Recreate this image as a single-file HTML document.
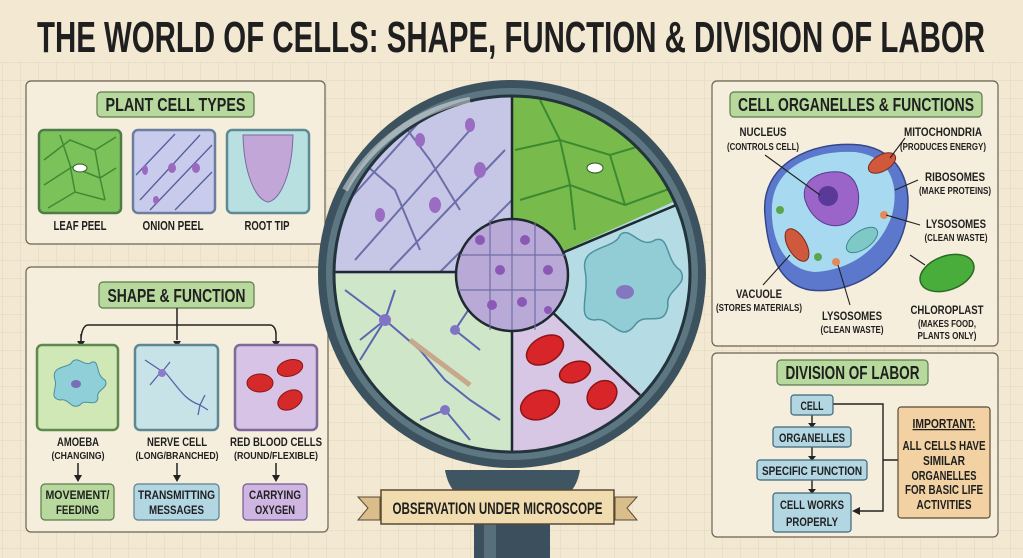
<!DOCTYPE html>
<html><head><meta charset="utf-8"><style>
html,body{margin:0;padding:0;background:#f3e8d2;}
svg{display:block}
text{font-family:"Liberation Sans Narrow","Liberation Sans",sans-serif;font-weight:bold;fill:#1f1f1f;text-anchor:middle}
</style></head><body>
<svg width="1023" height="558" viewBox="0 0 1023 558" xmlns="http://www.w3.org/2000/svg">
<defs>
<pattern id="grid" width="18" height="18" patternUnits="userSpaceOnUse" x="2" y="8">
<path d="M18 0H0V18" fill="none" stroke="#ddd2bb" stroke-width="0.8"/>
</pattern>
<clipPath id="lens"><circle cx="512" cy="274" r="178"/></clipPath>
</defs>
<rect width="1023" height="558" fill="#f3e8d2"/>
<rect x="0" y="62" width="1023" height="496" fill="url(#grid)"/>

<text x="511" y="52" font-size="44" textLength="948" lengthAdjust="spacingAndGlyphs">THE WORLD OF CELLS: SHAPE, FUNCTION &amp; DIVISION OF LABOR</text>

<!-- Plant cell types panel -->
<rect x="26" y="81" width="299" height="163" rx="5" fill="#f6eedc" stroke="#6b6252" stroke-width="1.2"/>
<rect x="97" y="92" width="157" height="25" rx="4" fill="#b7d99d" stroke="#5c7a4c" stroke-width="1.2"/>
<text x="175.5" y="111" font-size="18" textLength="140" lengthAdjust="spacingAndGlyphs">PLANT CELL TYPES</text>
<rect x="39" y="130" width="82" height="83" rx="5" fill="#7cc25a" stroke="#4f7a4a" stroke-width="2.5"/>
<g stroke="#3f8a35" stroke-width="1.5" fill="none"><path d="M44 160 L70 140 L95 150 L116 137 M44 185 L72 167 L100 178 L116 168 M48 208 L75 192 L105 200 M60 135 L70 165 L75 192 M95 150 L100 178 L105 200"/></g>
<ellipse cx="80" cy="168" rx="7" ry="4" fill="#fff" stroke="#2c5a25"/>
<rect x="133" y="130" width="82" height="83" rx="5" fill="#c8cbec" stroke="#6b7ea0" stroke-width="2.5"/>
<g stroke="#55609a" stroke-width="1.3" fill="none"><path d="M136 175 L175 134 M140 200 L200 135 M150 210 L212 145 M175 210 L212 172"/></g>
<g fill="#9b6ac0"><ellipse cx="145" cy="170" rx="3" ry="5"/><ellipse cx="172" cy="168" rx="4" ry="5"/><ellipse cx="196" cy="168" rx="4" ry="5"/><ellipse cx="156" cy="200" rx="3" ry="4"/></g>
<rect x="227" y="130" width="82" height="83" rx="5" fill="#b9e0e0" stroke="#5e8a96" stroke-width="2.5"/>
<path d="M243 135 L293 135 C292 175 280 200 268 202 C256 200 244 175 243 135Z" fill="#c3a6d8" stroke="#7b6aa0"/>
<text x="80" y="230" font-size="12.5" textLength="53" lengthAdjust="spacingAndGlyphs">LEAF PEEL</text>
<text x="173" y="230" font-size="12.5" textLength="61" lengthAdjust="spacingAndGlyphs">ONION PEEL</text>
<text x="267" y="230" font-size="12.5" textLength="45" lengthAdjust="spacingAndGlyphs">ROOT TIP</text>

<!-- Shape & function panel -->
<rect x="26" y="267" width="302" height="265" rx="5" fill="#f6eedc" stroke="#6b6252" stroke-width="1.2"/>
<rect x="99" y="282" width="155" height="26" rx="4" fill="#b7d99d" stroke="#5c7a4c" stroke-width="1.2"/>
<text x="176.5" y="302" font-size="18" textLength="138" lengthAdjust="spacingAndGlyphs">SHAPE &amp; FUNCTION</text>
<g stroke="#222" stroke-width="1.5" fill="none">
<path d="M177 308 V340 M81 334 V343 M276 334 V343 M81 340 C81 334 83 325 88 325 H270 C274 325 276 330 276 334"/>
<path d="M78 463 V476 M177 463 V476 M276 463 V476"/>
</g>
<g fill="#222"><path d="M77 341 L85 341 L81 347Z M173 341 L181 341 L177 347Z M272 341 L280 341 L276 347Z M74 475 L82 475 L78 482Z M173 475 L181 475 L177 482Z M272 475 L280 475 L276 482Z"/></g>
<rect x="37" y="345" width="81" height="85" rx="5" fill="#cfe8b6" stroke="#5f8a4e" stroke-width="2.5"/>
<path d="M55 380 C50 365 70 368 72 362 C78 355 85 368 92 362 C100 360 95 375 105 380 C110 388 95 390 98 398 C96 408 85 398 80 405 C70 410 70 398 60 400 C48 398 58 388 55 380Z" fill="#8fd0d8" stroke="#4d8ea0"/>
<ellipse cx="76" cy="384" rx="5" ry="4" fill="#7a6cb8"/>
<rect x="135" y="345" width="83" height="85" rx="5" fill="#c7e3e8" stroke="#5e8796" stroke-width="2.5"/>
<g stroke="#5563a8" stroke-width="1.3" fill="none"><path d="M145 360 L160 370 M150 385 L160 373 M170 362 L162 372 M165 372 C180 390 185 400 200 405 L205 395 M200 405 L198 415 M200 405 L208 410"/></g>
<circle cx="162" cy="373" r="4" fill="#8a7cc8"/>
<rect x="235" y="345" width="82" height="85" rx="5" fill="#d7c3e6" stroke="#7d6a98" stroke-width="2.5"/>
<g fill="#d42a2a" stroke="#8a1515"><ellipse cx="260" cy="383" rx="13" ry="9"/><ellipse cx="290" cy="368" rx="13" ry="8" transform="rotate(-15 290 368)"/><ellipse cx="290" cy="400" rx="13" ry="9" transform="rotate(-30 290 400)"/></g>
<text x="78" y="446" font-size="12" textLength="42" lengthAdjust="spacingAndGlyphs">AMOEBA</text>
<text x="78" y="459" font-size="10.5" textLength="53" lengthAdjust="spacingAndGlyphs">(CHANGING)</text>
<text x="177" y="446" font-size="12" textLength="60" lengthAdjust="spacingAndGlyphs">NERVE CELL</text>
<text x="177" y="459" font-size="10.5" textLength="83" lengthAdjust="spacingAndGlyphs">(LONG/BRANCHED)</text>
<text x="276" y="446" font-size="12" textLength="92" lengthAdjust="spacingAndGlyphs">RED BLOOD CELLS</text>
<text x="276" y="459" font-size="10.5" textLength="84" lengthAdjust="spacingAndGlyphs">(ROUND/FLEXIBLE)</text>
<rect x="41" y="484" width="73" height="36" rx="4" fill="#b7d99d" stroke="#5c7a4c" stroke-width="1.2"/>
<text x="77.5" y="499" font-size="12" textLength="64" lengthAdjust="spacingAndGlyphs">MOVEMENT/</text><text x="77.5" y="514" font-size="12" textLength="43" lengthAdjust="spacingAndGlyphs">FEEDING</text>
<rect x="134" y="484" width="85" height="36" rx="4" fill="#b3d6e3" stroke="#5a7f90" stroke-width="1.2"/>
<text x="176.5" y="499" font-size="12" textLength="77" lengthAdjust="spacingAndGlyphs">TRANSMITTING</text><text x="176.5" y="514" font-size="12" textLength="55" lengthAdjust="spacingAndGlyphs">MESSAGES</text>
<rect x="243" y="484" width="64" height="36" rx="4" fill="#cfb6e2" stroke="#70598e" stroke-width="1.2"/>
<text x="275" y="499" font-size="12" textLength="52" lengthAdjust="spacingAndGlyphs">CARRYING</text><text x="275" y="514" font-size="12" textLength="40" lengthAdjust="spacingAndGlyphs">OXYGEN</text>

<!-- Magnifier -->
<path d="M445 470 Q450 500 480 505 L545 505 Q575 500 580 470Z" fill="#3f5561"/>
<rect x="474" y="500" width="76" height="58" fill="#3b505c"/>
<rect x="484" y="505" width="12" height="53" fill="#566f7b"/>
<circle cx="512" cy="274" r="194" fill="#3c525e"/>
<circle cx="512" cy="274" r="186" fill="#5d7782"/>
<g clip-path="url(#lens)">
<rect x="330" y="90" width="182" height="184" fill="#c6c7e6"/>
<rect x="512" y="90" width="190" height="184" fill="#78bb4c"/>
<path d="M512 274 L700 190 L700 470 Z" fill="#b5dce4"/>
<path d="M512 274 L650 400 L650 470 L512 470Z" fill="#d8c6e5"/>
<rect x="330" y="274" width="182" height="200" fill="#cfe6c8"/>
<g stroke="#6c6ea8" stroke-width="2" fill="none"><path d="M340 210 L430 110 M355 260 L470 130 M390 270 L505 150 M440 272 L512 200 M360 160 L395 190 L420 250 M400 120 L430 160 L460 210"/></g>
<g fill="#9a6cc2"><ellipse cx="380" cy="215" rx="5" ry="7"/><ellipse cx="435" cy="205" rx="6" ry="8"/><ellipse cx="480" cy="170" rx="6" ry="8"/><ellipse cx="470" cy="125" rx="5" ry="7"/><ellipse cx="420" cy="140" rx="5" ry="7"/></g>
<g stroke="#3c8a30" stroke-width="2" fill="none"><path d="M515 150 L560 140 L610 155 L660 140 L700 150 M520 200 L570 185 L625 205 L680 185 M560 140 L570 185 L575 230 M610 155 L625 205 M660 140 L680 185 M540 100 L560 140"/></g>
<ellipse cx="595" cy="168" rx="8" ry="5" fill="#fff" stroke="#2c5a25"/>
<path d="M585 270 C580 245 615 250 620 235 C630 225 640 250 655 240 C670 235 665 260 680 270 C690 285 665 290 668 305 C665 330 645 310 635 325 C620 345 610 315 595 320 C575 320 590 295 585 270Z" fill="#92cdd6" stroke="#4e92a0" stroke-width="1.5"/>
<ellipse cx="625" cy="292" rx="9" ry="7" fill="#8576c0"/>
<g fill="#d8252a" stroke="#8c1515" stroke-width="1.5"><ellipse cx="545" cy="350" rx="20" ry="13" transform="rotate(-30 545 350)"/><ellipse cx="575" cy="372" rx="16" ry="10" transform="rotate(-20 575 372)"/><ellipse cx="540" cy="405" rx="20" ry="14" transform="rotate(-20 540 405)"/><ellipse cx="602" cy="395" rx="16" ry="13" transform="rotate(-40 602 395)"/></g>
<g stroke="#5b66b0" stroke-width="2" fill="none"><path d="M345 290 L385 320 L420 350 L445 380 L470 400 L500 420 M385 320 L360 340 M385 320 L395 290 M455 330 L475 300 M455 330 L480 350 M445 410 L420 420 M445 410 L470 440 M360 360 L385 320"/></g>
<path d="M410 340 L470 385" stroke="#c8a88a" stroke-width="5"/>
<g fill="#8174c6"><circle cx="385" cy="320" r="6"/><circle cx="455" cy="330" r="5"/><circle cx="445" cy="410" r="5"/></g>
<g stroke="#1e2a30" stroke-width="2.5" fill="none"><path d="M512 90 V470 M330 272 H512 M512 274 L700 195 M512 274 L640 395"/></g>
</g>
<circle cx="512" cy="274" r="178" fill="none" stroke="#24343c" stroke-width="3"/>
<circle cx="512" cy="275" r="56" fill="#b9a9d6" stroke="#1e2a30" stroke-width="2.5"/>
<g stroke="#6e6ea8" stroke-width="1.2" fill="none"><path d="M460 255 H565 M458 290 H566 M490 220 V330 M512 220 V330 M535 222 V330"/></g>
<g fill="#8c58b6"><circle cx="480" cy="240" r="5"/><circle cx="500" cy="270" r="5"/><circle cx="525" cy="240" r="5"/><circle cx="548" cy="270" r="5"/><circle cx="492" cy="305" r="5"/><circle cx="522" cy="302" r="5"/><circle cx="548" cy="310" r="4"/></g>
<path d="M345 190 A180 180 0 0 1 470 100" stroke="#fff" stroke-opacity="0.45" stroke-width="6" fill="none"/>

<!-- banner -->
<path d="M358 497 L380 497 L380 520 L358 520 L368 508Z" fill="#d9bd8a" stroke="#5a4a35"/>
<path d="M637 497 L615 497 L615 520 L637 520 L627 508Z" fill="#d9bd8a" stroke="#5a4a35"/>
<rect x="381" y="490" width="233" height="34" fill="#f1dcb0" stroke="#5a4a35" stroke-width="1.5"/>
<text x="497.5" y="514" font-size="17" textLength="210" lengthAdjust="spacingAndGlyphs">OBSERVATION UNDER MICROSCOPE</text>

<!-- Organelles panel -->
<rect x="712" y="81" width="286" height="265" rx="5" fill="#f6eedc" stroke="#6b6252" stroke-width="1.2"/>
<rect x="730" y="92" width="252" height="25" rx="4" fill="#b7d99d" stroke="#5c7a4c" stroke-width="1.2"/>
<text x="856" y="111" font-size="18" textLength="236" lengthAdjust="spacingAndGlyphs">CELL ORGANELLES &amp; FUNCTIONS</text>
<path d="M765 215 C760 165 810 140 860 145 C900 150 915 185 905 225 C895 270 850 295 810 290 C780 285 768 255 765 215Z" fill="#5b78cc" stroke="#34468a" stroke-width="1.5"/>
<path d="M772 205 C775 165 815 150 855 152 C890 156 900 185 892 215 C880 250 850 270 815 272 C785 270 770 240 772 205Z" fill="#a7daf0"/>
<path d="M805 200 C800 180 820 170 840 172 C860 176 862 200 855 215 C845 232 815 230 805 200Z" fill="#9a64c8" stroke="#5a3a90"/>
<circle cx="828" cy="196" r="10" fill="#5a3a98"/>
<ellipse cx="797" cy="245" rx="9" ry="18" transform="rotate(-30 797 245)" fill="#d0583c" stroke="#7a2a1a"/>
<ellipse cx="882" cy="163" rx="8" ry="15" transform="rotate(60 882 163)" fill="#d0583c" stroke="#7a2a1a"/>
<ellipse cx="862" cy="240" rx="9" ry="18" transform="rotate(55 862 240)" fill="#7fc8c8" stroke="#3d8a8a"/>
<circle cx="780" cy="210" r="4" fill="#5aa64a"/><circle cx="818" cy="257" r="4" fill="#5aa64a"/>
<circle cx="884" cy="215" r="4" fill="#e4895a"/><circle cx="836" cy="262" r="4" fill="#e4895a"/>
<ellipse cx="947" cy="273" rx="28" ry="17" transform="rotate(-20 947 273)" fill="#49ad3c" stroke="#2a6a22" stroke-width="1.5"/>
<g stroke="#222" stroke-width="1.1"><path d="M765 155 L820 195 M890 158 L905 138 M895 190 L918 180 M886 215 L920 225 M790 255 L763 285 M838 265 L850 305 M910 255 L925 265"/></g>
<text x="763" y="136" font-size="12" textLength="47" lengthAdjust="spacingAndGlyphs">NUCLEUS</text><text x="763" y="150" font-size="10" textLength="72" lengthAdjust="spacingAndGlyphs">(CONTROLS CELL)</text>
<text x="943" y="136" font-size="12" textLength="78" lengthAdjust="spacingAndGlyphs">MITOCHONDRIA</text><text x="943" y="150" font-size="10" textLength="86" lengthAdjust="spacingAndGlyphs">(PRODUCES ENERGY)</text>
<text x="955" y="181" font-size="12" textLength="60" lengthAdjust="spacingAndGlyphs">RIBOSOMES</text><text x="955" y="194" font-size="10" textLength="72" lengthAdjust="spacingAndGlyphs">(MAKE PROTEINS)</text>
<text x="956" y="228" font-size="12" textLength="60" lengthAdjust="spacingAndGlyphs">LYSOSOMES</text><text x="956" y="241" font-size="10" textLength="63" lengthAdjust="spacingAndGlyphs">(CLEAN WASTE)</text>
<text x="759" y="298" font-size="12" textLength="46" lengthAdjust="spacingAndGlyphs">VACUOLE</text><text x="759" y="311" font-size="10" textLength="86" lengthAdjust="spacingAndGlyphs">(STORES MATERIALS)</text>
<text x="852" y="320" font-size="12" textLength="60" lengthAdjust="spacingAndGlyphs">LYSOSOMES</text><text x="852" y="333" font-size="10" textLength="63" lengthAdjust="spacingAndGlyphs">(CLEAN WASTE)</text>
<text x="947" y="314" font-size="12" textLength="73" lengthAdjust="spacingAndGlyphs">CHLOROPLAST</text><text x="947" y="327" font-size="10" textLength="58" lengthAdjust="spacingAndGlyphs">(MAKES FOOD,</text><text x="947" y="339" font-size="10" textLength="59" lengthAdjust="spacingAndGlyphs">PLANTS ONLY)</text>

<!-- Division panel -->
<rect x="712" y="353" width="286" height="184" rx="5" fill="#f6eedc" stroke="#6b6252" stroke-width="1.2"/>
<rect x="777" y="360" width="151" height="25" rx="4" fill="#b7d99d" stroke="#5c7a4c" stroke-width="1.2"/>
<text x="852.5" y="379" font-size="18" textLength="134" lengthAdjust="spacingAndGlyphs">DIVISION OF LABOR</text>
<g stroke="#222" stroke-width="1.4" fill="none"><path d="M833 404 H883 V511 H860 M883 460 H898 M812 415 V424 M812 447 V457 M812 480 V490"/></g>
<g fill="#222"><path d="M808 423 L816 423 L812 428Z M808 456 L816 456 L812 461Z M808 489 L816 489 L812 494Z M852 511 L860 507 L860 515Z"/></g>
<rect x="791" y="395" width="42" height="20" rx="3" fill="#b3d6e3" stroke="#3e6676" stroke-width="1.2"/>
<text x="812" y="410" font-size="12" textLength="23" lengthAdjust="spacingAndGlyphs">CELL</text>
<rect x="773" y="427" width="78" height="20" rx="3" fill="#b3d6e3" stroke="#3e6676" stroke-width="1.2"/>
<text x="812" y="442" font-size="12" textLength="66" lengthAdjust="spacingAndGlyphs">ORGANELLES</text>
<rect x="757" y="460" width="110" height="20" rx="3" fill="#b3d6e3" stroke="#3e6676" stroke-width="1.2"/>
<text x="812" y="475" font-size="12" textLength="100" lengthAdjust="spacingAndGlyphs">SPECIFIC FUNCTION</text>
<rect x="773" y="493" width="78" height="39" rx="3" fill="#b3d6e3" stroke="#3e6676" stroke-width="1.2"/>
<text x="812" y="509" font-size="12" textLength="64" lengthAdjust="spacingAndGlyphs">CELL WORKS</text><text x="812" y="526" font-size="12" textLength="52" lengthAdjust="spacingAndGlyphs">PROPERLY</text>
<rect x="898" y="407" width="92" height="111" rx="3" fill="#f2d2a2" stroke="#5a4a35" stroke-width="1.2"/>
<text x="944" y="428" font-size="12.5" text-decoration="underline" textLength="63" lengthAdjust="spacingAndGlyphs">IMPORTANT:</text>
<text x="944" y="450" font-size="12.5" textLength="83" lengthAdjust="spacingAndGlyphs">ALL CELLS HAVE</text>
<text x="944" y="465" font-size="12.5" textLength="42" lengthAdjust="spacingAndGlyphs">SIMILAR</text>
<text x="944" y="480" font-size="12.5" textLength="65" lengthAdjust="spacingAndGlyphs">ORGANELLES</text>
<text x="944" y="494" font-size="12.5" textLength="78" lengthAdjust="spacingAndGlyphs">FOR BASIC LIFE</text>
<text x="944" y="509" font-size="12.5" textLength="55" lengthAdjust="spacingAndGlyphs">ACTIVITIES</text>
</svg>
</body></html>
